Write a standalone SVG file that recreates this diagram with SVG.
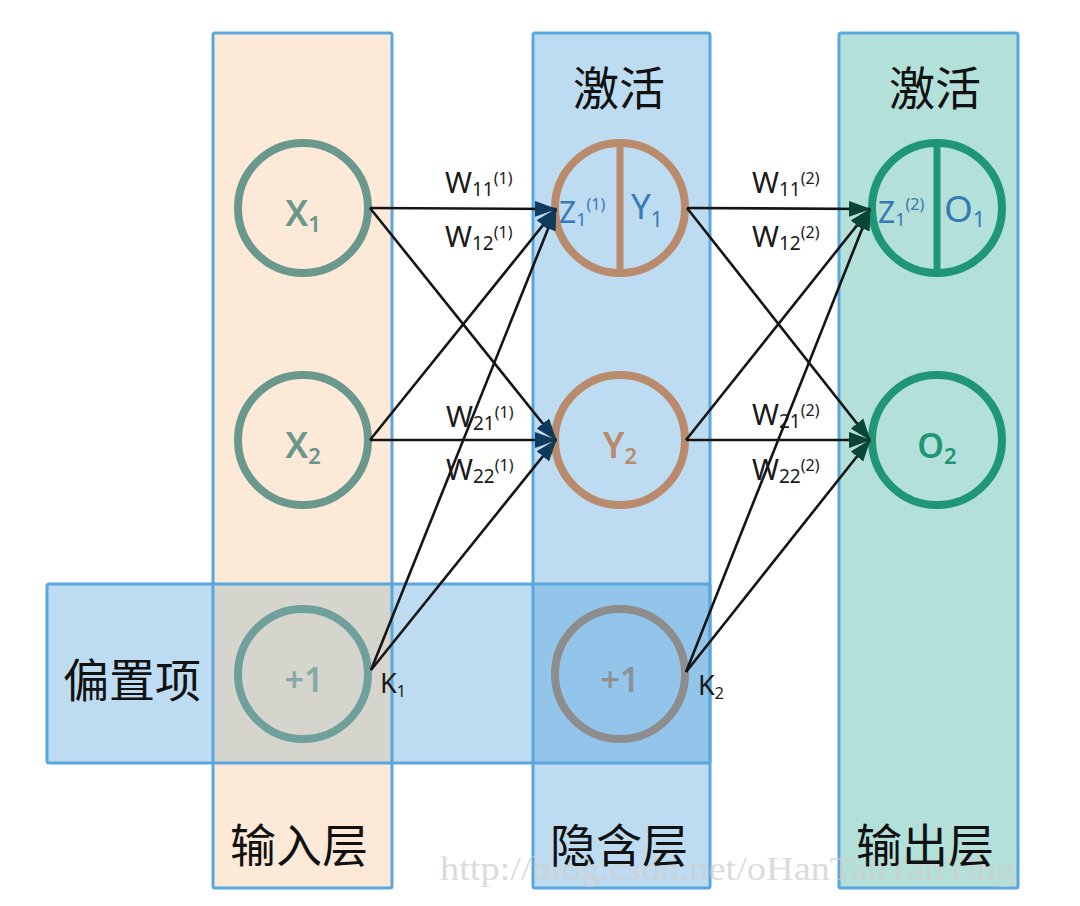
<svg xmlns="http://www.w3.org/2000/svg" width="1080" height="906" viewBox="0 0 1080 906">
<style>
.col{stroke:#5aa6de;stroke-width:3}
.cn{font-family:"Noto Sans","Noto Sans CJK SC",sans-serif;font-size:46px;fill:#111}
.lat{font-family:"Noto Sans","Liberation Sans",sans-serif}
.w{font-family:"Noto Sans","Liberation Sans",sans-serif;font-size:29px;fill:#1a1a1a}
.edge{stroke:#141414;stroke-width:2.6;fill:none}
.e1{marker-end:url(#ah1)}
.e2{marker-end:url(#ah2)}
</style>
<defs>
<marker id="ah1" markerUnits="userSpaceOnUse" markerWidth="24" markerHeight="20" refX="21" refY="10" orient="auto">
<path d="M0,2 L22,10 L0,18 Z" fill="#0f3a5c"/>
</marker>
<marker id="ah2" markerUnits="userSpaceOnUse" markerWidth="24" markerHeight="20" refX="21" refY="10" orient="auto">
<path d="M0,2 L22,10 L0,18 Z" fill="#0b4536"/>
</marker>
</defs>
<rect width="1080" height="906" fill="#ffffff"/>
<g id="backgrounds">
<rect x="213" y="33" width="179" height="855" fill="#fde9d7"/>
<rect x="533" y="33" width="177" height="855" fill="#bddcf1"/>
<rect x="839" y="33" width="179" height="855" fill="#b3e0d9"/>
<rect x="47" y="584" width="663" height="179" fill="#bddcf1"/>
<rect x="213" y="584" width="179" height="179" fill="#d5d5cd"/>
<rect x="533" y="584" width="177" height="179" fill="#93c5ea"/>
<rect class="col" x="213" y="33" width="179" height="855" fill="none" rx="2"/>
<rect class="col" x="533" y="33" width="177" height="855" fill="none" rx="2"/>
<rect class="col" x="839" y="33" width="179" height="855" fill="none" rx="2"/>
<rect class="col" x="47" y="584" width="663" height="179" fill="none" rx="2"/>
</g>
<text id="watermark" x="440" y="880" font-family="Liberation Serif,serif" font-size="34" fill="#cfcfcf" fill-opacity="0.75" textLength="575" lengthAdjust="spacingAndGlyphs">http://blog.csdn.net/oHanTanTanTing</text>
<g id="titles">
<text class="cn" x="619" y="105" text-anchor="middle">激活</text>
<text class="cn" x="935" y="105" text-anchor="middle">激活</text>
<text class="cn" x="132" y="697" text-anchor="middle">偏置项</text>
<text class="cn" x="299" y="862" text-anchor="middle">输入层</text>
<text class="cn" x="619" y="862" text-anchor="middle">隐含层</text>
<text class="cn" x="925" y="862" text-anchor="middle">输出层</text>
</g>
<g id="node-x1">
<circle cx="303" cy="208" r="65" fill="none" stroke="#6a988d" stroke-width="8"/>
<text class="lat" x="303" y="226" text-anchor="middle" font-size="36" font-weight="600" fill="#6a988d">X<tspan font-size="22" dy="6">1</tspan></text>
</g>
<g id="node-x2">
<circle cx="303" cy="440" r="65" fill="none" stroke="#6a988d" stroke-width="8"/>
<text class="lat" x="303" y="458" text-anchor="middle" font-size="36" font-weight="600" fill="#6a988d">X<tspan font-size="22" dy="6">2</tspan></text>
</g>
<g id="node-b1">
<circle cx="303" cy="674" r="65" fill="none" stroke="#70a09b" stroke-width="8"/>
<text class="lat" x="304" y="692" text-anchor="middle" font-size="34" font-weight="600" fill="#84aaa4">+1</text>
<text class="lat" x="380" y="693" font-size="27" fill="#1a1a1a">K<tspan font-size="16" dy="4">1</tspan></text>
</g>
<g id="node-y1">
<circle cx="620" cy="208" r="65" fill="none" stroke="#b98b6c" stroke-width="8"/>
<line x1="620" y1="143" x2="620" y2="273" stroke="#b98b6c" stroke-width="7"/>
<text class="lat" x="559" y="223" font-size="30" fill="#3b78b9">Z<tspan font-size="18" dy="3">1</tspan><tspan font-size="16" dy="-16">(1)</tspan></text>
<text class="lat" x="631" y="219" font-size="35" fill="#3b78b9">Y<tspan font-size="21" dy="8">1</tspan></text>
</g>
<g id="node-y2">
<circle cx="620" cy="440" r="65" fill="none" stroke="#b98b6c" stroke-width="8"/>
<text class="lat" x="620" y="458" text-anchor="middle" font-size="36" font-weight="600" fill="#b98b6c">Y<tspan font-size="22" dy="6">2</tspan></text>
</g>
<g id="node-b2">
<circle cx="620" cy="674" r="65" fill="none" stroke="#8d8d8d" stroke-width="8"/>
<text class="lat" x="620" y="692" text-anchor="middle" font-size="34" font-weight="600" fill="#8c9196">+1</text>
<text class="lat" x="698" y="695" font-size="27" fill="#1a1a1a">K<tspan font-size="16" dy="4">2</tspan></text>
</g>
<g id="node-o1">
<circle cx="937" cy="208" r="65" fill="none" stroke="#1f9676" stroke-width="8"/>
<line x1="937" y1="143" x2="937" y2="273" stroke="#1f9676" stroke-width="7"/>
<text class="lat" x="878" y="223" font-size="30" fill="#3579b5">Z<tspan font-size="18" dy="3">1</tspan><tspan font-size="16" dy="-16">(2)</tspan></text>
<text class="lat" x="944" y="222" font-size="37" fill="#3579b5">O<tspan font-size="21" dy="5">1</tspan></text>
</g>
<g id="node-o2">
<circle cx="937" cy="440" r="65" fill="none" stroke="#1f9676" stroke-width="8"/>
<text class="lat" x="937" y="458" text-anchor="middle" font-size="34" font-weight="600" fill="#1f9676">O<tspan font-size="22" dy="6">2</tspan></text>
</g>
<g id="connectors">
<line class="edge e1" x1="370" y1="208" x2="556" y2="209"/>
<line class="edge e1" x1="370" y1="208" x2="556" y2="440"/>
<line class="edge e1" x1="370" y1="440" x2="556" y2="209"/>
<line class="edge e1" x1="370" y1="440" x2="556" y2="440"/>
<line class="edge e1" x1="371" y1="670" x2="556" y2="209"/>
<line class="edge e1" x1="371" y1="670" x2="556" y2="440"/>
<line class="edge e2" x1="687" y1="208" x2="870" y2="209"/>
<line class="edge e2" x1="687" y1="208" x2="870" y2="440"/>
<line class="edge e2" x1="686" y1="440" x2="870" y2="209"/>
<line class="edge e2" x1="686" y1="440" x2="870" y2="440"/>
<line class="edge e2" x1="686" y1="672" x2="870" y2="209"/>
<line class="edge e2" x1="686" y1="672" x2="870" y2="440"/>
</g>
<g id="weights">
<text class="w" x="445" y="193">W<tspan font-size="19" dy="3">11</tspan><tspan font-size="16" dy="-12">(1)</tspan></text>
<text class="w" x="445" y="247">W<tspan font-size="19" dy="3">12</tspan><tspan font-size="16" dy="-12">(1)</tspan></text>
<text class="w" x="446" y="427">W<tspan font-size="19" dy="3">21</tspan><tspan font-size="16" dy="-12">(1)</tspan></text>
<text class="w" x="446" y="480">W<tspan font-size="19" dy="3">22</tspan><tspan font-size="16" dy="-12">(1)</tspan></text>
<text class="w" x="752" y="193">W<tspan font-size="19" dy="3">11</tspan><tspan font-size="16" dy="-12">(2)</tspan></text>
<text class="w" x="752" y="247">W<tspan font-size="19" dy="3">12</tspan><tspan font-size="16" dy="-12">(2)</tspan></text>
<text class="w" x="752" y="425">W<tspan font-size="19" dy="3">21</tspan><tspan font-size="16" dy="-12">(2)</tspan></text>
<text class="w" x="752" y="480">W<tspan font-size="19" dy="3">22</tspan><tspan font-size="16" dy="-12">(2)</tspan></text>
</g>
</svg>
